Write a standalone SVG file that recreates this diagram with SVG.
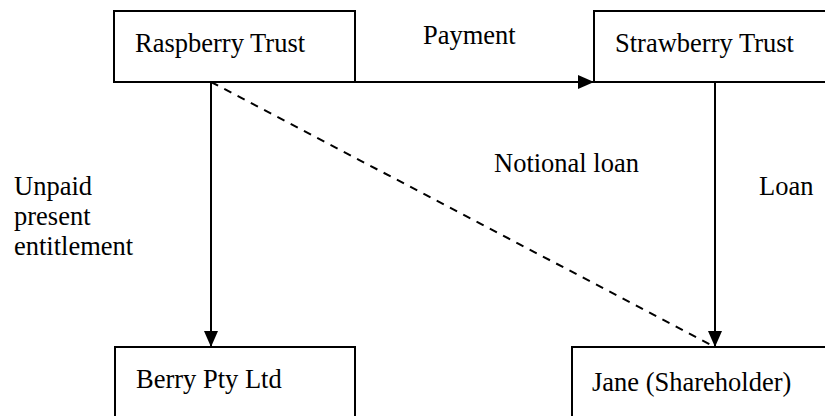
<svg xmlns="http://www.w3.org/2000/svg" width="825" height="416" viewBox="0 0 825 416">
  <defs>
    <style>
      .box { fill: #ffffff; stroke: #000000; stroke-width: 2; }
      .lbl { font-family: "Liberation Serif", "Times New Roman", serif; font-size: 26.5px; fill: #000000; }
      .edge { stroke: #000000; stroke-width: 2; fill: none; }
      .dash { stroke-dasharray: 8 7; }
    </style>
    <marker id="arrow" viewBox="0 0 16 14" refX="16" refY="7" markerWidth="16" markerHeight="14" markerUnits="userSpaceOnUse" orient="auto">
      <path d="M0,0 L16,7 L0,14 Z" fill="#000000"/>
    </marker>
  </defs>
  <rect width="825" height="416" fill="#ffffff"/>

  <g id="raspberry-trust">
    <rect class="box" x="114" y="11" width="241" height="71"/>
    <text class="lbl" x="135" y="52">Raspberry Trust</text>
  </g>
  <g id="strawberry-trust">
    <rect class="box" x="594" y="11" width="240" height="71"/>
    <text class="lbl" x="615" y="52">Strawberry Trust</text>
  </g>
  <g id="berry-pty-ltd">
    <rect class="box" x="115" y="347" width="240" height="80"/>
    <text class="lbl" x="136" y="388">Berry Pty Ltd</text>
  </g>
  <g id="jane">
    <rect class="box" x="572" y="347" width="262" height="80"/>
    <text class="lbl" x="592" y="391">Jane (Shareholder)</text>
  </g>

  <g id="connectors">
    <line class="edge" x1="355" y1="82" x2="594" y2="82" marker-end="url(#arrow)"/>
    <line class="edge" x1="211" y1="82" x2="211" y2="347" marker-end="url(#arrow)"/>
    <line class="edge" x1="715" y1="82" x2="715" y2="347" marker-end="url(#arrow)"/>
    <line class="edge dash" x1="211" y1="82" x2="715" y2="347"/>
    <text class="lbl" x="423" y="44">Payment</text>
    <text class="lbl" x="494" y="172">Notional loan</text>
    <text class="lbl" x="759" y="195">Loan</text>
    <text class="lbl" x="14" y="195">Unpaid</text>
    <text class="lbl" x="14" y="225">present</text>
    <text class="lbl" x="14" y="255">entitlement</text>
  </g>
</svg>
